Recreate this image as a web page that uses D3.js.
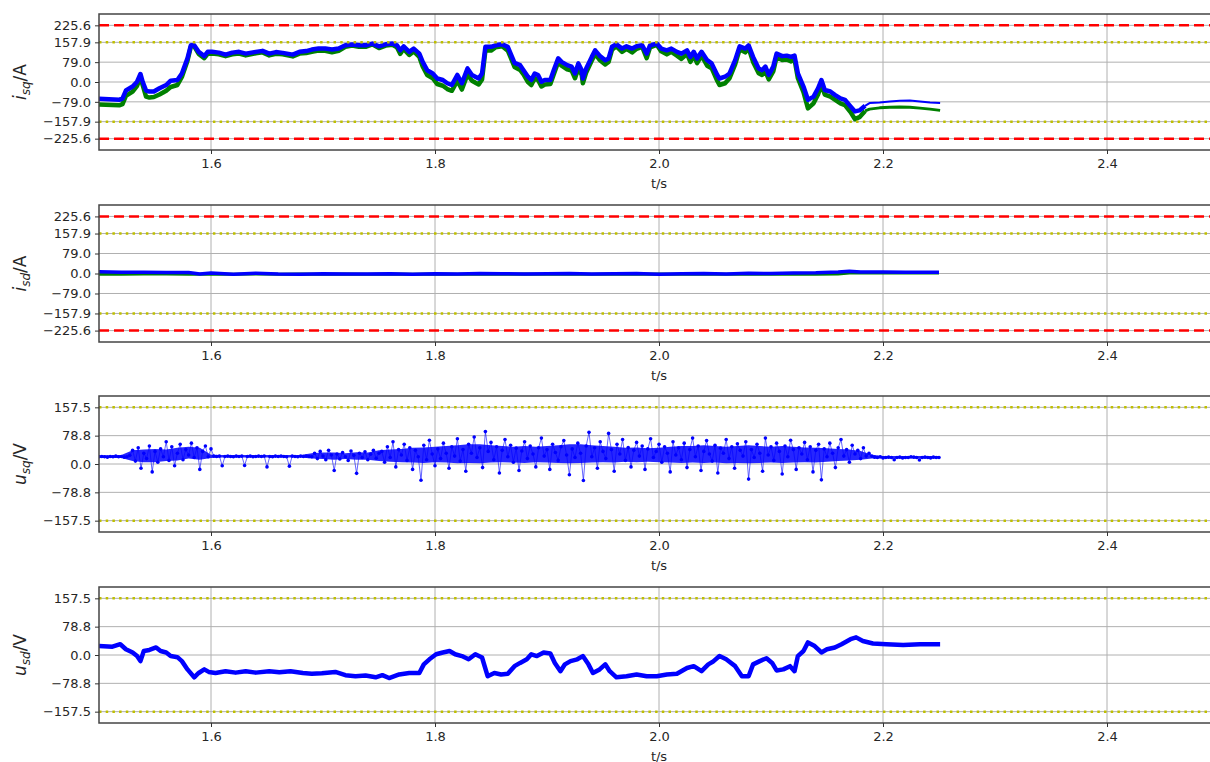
<!DOCTYPE html>
<html lang="en">
<head>
<meta charset="utf-8">
<script src="https://d3js.org/d3.v7.min.js"></script>
<style>
  body { margin: 0; background: #fff; }
  text { font-family: "DejaVu Sans", sans-serif; }
</style>
</head>
<body>
<script>

// ---- data ----

var xTicks = [1.6, 1.8, 2.0, 2.2, 2.4];
var iTicks = [-225.6, -157.9, -79.0, 0.0, 79.0, 157.9, 225.6];
var uTicks = [-157.5, -78.8, 0.0, 78.8, 157.5];
var iMax = 225.6;      // red dashed limit
var iRated = 157.9;    // yellow dotted limit
var uMax = 157.5;      // yellow dotted limit (voltage)

// i_sq
var tIq = [1.500,1.518,1.521,1.524,1.530,1.534,1.537,1.539,1.542,1.545,
  1.549,1.554,1.560,1.564,1.570,1.574,1.579,1.582,1.585,1.589,
  1.594,1.597,1.601,1.607,1.613,1.619,1.625,1.631,1.640,1.646,
  1.652,1.658,1.664,1.673,1.679,1.685,1.690,1.696,1.702,1.708,
  1.714,1.720,1.726,1.732,1.738,1.744,1.750,1.756,1.762,1.766,
  1.769,1.772,1.777,1.781,1.786,1.789,1.793,1.798,1.802,1.807,
  1.811,1.815,1.820,1.824,1.829,1.833,1.839,1.842,1.845,1.850,
  1.854,1.860,1.865,1.871,1.876,
  1.879,1.883,1.886,1.889,1.892,1.895,1.898,1.903,1.906,1.910,
  1.913,1.918,1.922,1.925,1.928,1.931,1.932,1.935,1.940,1.943,
  1.947,1.952,1.955,1.958,1.962,1.967,1.971,1.976,1.980,1.985,
  1.989,1.992,1.998,2.002,2.007,2.011,2.016,2.020,2.025,2.028,
  2.031,2.034,2.038,2.043,2.047,2.052,2.054,2.059,2.063,2.068,
  2.072,2.077,2.080,2.084,2.089,2.092,2.095,2.098,2.102,2.105,
  2.110,2.114,2.118,2.121,2.124,2.129,2.133,2.138,2.142,2.145,
  2.148,2.153,2.157,2.162,2.166,2.171,2.175,2.179,2.184,2.188,
  2.197,2.206,2.215,2.224,2.233,2.242,2.251];

var iqBlue = [-67,-71,-65,-34,-18,1,32,1,-34,-38,
  -38,-25,-12,5,8,34,94,146,146,120,
  103,120,120,117,109,117,120,113,120,124,
  113,119,116,109,120,123,129,133,133,129,
  133,146,149,146,146,153,142,150,153,146,
  126,142,120,133,113,80,47,34,14,8,
  -5,-12,28,-5,54,28,14,34,140,140,
  146,150,140,76,67,
  47,21,8,34,28,1,8,8,47,94,
  80,67,61,34,74,47,14,54,100,126,
  105,87,94,140,150,133,142,133,142,146,
  113,146,153,133,126,133,120,113,126,100,
  120,94,120,87,74,28,14,21,34,87,
  142,133,146,100,54,47,61,28,61,113,
  103,105,100,105,34,-18,-71,-58,-25,8,
  -32,-38,-51,-65,-71,-97,-117,-113,-95,-84,
  -82,-78,-75,-74,-78,-82,-84];

var iqGreen = [-90,-93,-88,-55,-38,-15,18,-12,-58,-62,
  -60,-50,-35,-20,-12,20,85,140,142,112,
  95,112,113,110,103,110,113,106,114,118,
  106,112,110,102,113,115,120,125,124,118,
  124,140,145,140,140,150,135,145,148,138,
  112,132,108,122,100,62,28,15,-8,-15,
  -28,-35,5,-30,30,5,-10,10,125,125,
  138,142,125,60,48,
  30,0,-12,15,8,-18,-10,-8,30,80,
  65,50,45,15,55,28,-5,38,85,112,
  88,70,80,128,142,120,132,118,132,140,
  95,138,148,122,110,120,105,92,112,80,
  105,75,105,65,55,5,-12,-5,15,70,
  130,118,135,80,35,28,42,10,42,100,
  88,90,82,90,15,-40,-105,-85,-50,-10,
  -50,-58,-70,-85,-92,-120,-148,-140,-115,-108,
  -103,-101,-100,-101,-104,-108,-113];

// i_sd
var tIsd = [1.50,1.52,1.54,1.56,1.58,1.59,1.60,1.62,1.64,1.66,
  1.68,1.70,1.72,1.74,1.76,1.78,1.80,1.82,1.84,1.86,
  1.88,1.90,1.92,1.94,1.96,1.98,2.00,2.02,2.04,2.06,
  2.08,2.10,2.12,2.14,2.16,2.17,2.18,2.20,2.22,2.25];
var isdBlue = [7,5,5,4,4,-2,2,-3,1,-2,
  -3,-1,-2,-2,-1,-3,-1,-2,0,-1,
  -2,-1,0,-2,-1,0,-3,-1,0,-2,
  1,0,2,3,6,9,6,6,5,5];
var isdGreen = [-3,-3,-2,-2,-3,-3,-2,-3,-2,-3,
  -2,-3,-2,-3,-2,-3,-2,-3,-2,-3,
  -2,-3,-2,-3,-2,-3,-2,-3,-2,-3,
  -2,-3,-2,-3,-2,2,2,2,2,2];

// u_sq, sampled every 2.5 ms from 1.5 s
var usqStart = 1.5;
var usqStep = 0.0025;
var usq = [20,21,20,19,21,20,22,20,21,19,20,24,
  38,8,45,-12,30,15,50,-22,35,5,42,20,62,10,48,-5,30,55,12,40,25,58,18,45,-15,35,50,20,42,
  22,21,22,-5,21,22,21,20,22,21,22,-4,21,22,20,21,22,21,22,-8,21,20,22,21,22,21,20,-6,22,21,20,22,21,22,21,20,
  30,15,35,22,12,38,25,-18,28,14,32,20,10,36,24,-26,30,18,34,12,27,38,16,30,
  35,5,48,18,62,-8,40,25,55,10,
  45,-15,38,20,-45,52,12,66,28,-5,
  42,15,58,30,-12,48,22,70,8,40,
  -20,55,30,75,18,45,-10,90,35,60,
  12,48,-25,38,68,20,52,5,44,-18,
  36,62,15,50,28,-8,45,72,22,40,
  -15,55,32,10,48,65,25,-30,42,18,
  58,30,-46,50,88,20,45,-12,62,35,
  15,85,40,-20,55,28,68,10,46,-8,
  38,60,22,50,-15,42,70,18,35,55,
  5,48,30,-22,62,25,45,12,58,-10,
  40,72,20,50,-18,35,65,28,8,52,
  -25,44,30,68,15,48,-12,56,38,22,
  62,-42,40,18,55,30,-20,72,25,48,
  10,58,35,-28,50,20,66,40,-15,45,
  28,60,12,48,-22,38,55,-44,42,20,
  58,30,-10,45,68,22,40,5,52,28,
  38,15,45,22,30,
  22,19,18,20,17,18,19,18,12,18,19,17,18,18,20,19,18,11,18,19,18,17,19,18,18];

// u_sq dense core of the point cloud, every 10 ms from 1.5 s
var bandStep = 0.01;
var usqLo = [17,17,17,
  8,5,5,8,10,15,12,
  17,18,18,18,18,18,18,18,18,
  15,14,12,14,12,12,8,
  6,5,4,3,5,4,2,3,2,4,
  5,4,3,5,4,3,2,3,4,5,
  4,6,5,6,5,4,3,4,3,4,
  2,3,2,3,4,3,4,5,4,6,
  8,10,12,15,
  15,15,15,15,15,15];
var usqHi = [24,24,25,
  38,40,42,40,45,48,45,
  26,25,25,25,25,25,25,25,25,
  30,32,32,30,33,32,38,
  40,42,45,46,48,50,52,55,55,52,
  50,48,50,48,50,52,55,55,52,50,
  48,45,46,44,45,48,50,50,52,50,
  48,50,52,50,48,50,48,46,45,44,
  42,40,36,26,
  22,22,22,22,22,22];

// u_sd
var tUsd = [1.500,1.512,1.519,1.524,1.530,1.534,1.537,1.540,1.545,1.551,
  1.555,1.560,1.564,1.570,1.574,1.579,1.585,1.589,1.594,1.598,
  1.604,1.613,1.622,1.631,1.640,1.652,1.661,1.671,1.682,1.690,
  1.699,1.711,1.720,1.729,1.738,1.747,1.753,1.759,1.768,1.777,
  1.786,1.790,1.795,1.801,1.807,1.813,1.818,1.824,1.830,1.836,
  1.842,1.847,1.853,1.859,1.865,1.871,
  1.876,1.882,1.886,1.891,1.897,1.903,1.907,1.912,1.916,1.921,
  1.927,1.932,1.937,1.941,1.947,1.952,1.956,1.962,1.971,1.980,
  1.989,1.998,2.007,2.016,2.025,2.031,2.038,2.044,2.048,2.054,
  2.060,2.068,2.074,2.080,2.084,2.090,2.096,2.101,2.105,2.111,
  2.117,2.121,2.124,2.129,2.133,2.139,2.145,2.150,2.157,2.163,
  2.171,2.176,2.182,2.191,2.203,2.218,2.233,2.251];
var usd = [25,23,30,16,7,-3,-17,11,14,21,
  11,7,-3,-6,-17,-40,-62,-50,-40,-47,
  -50,-45,-49,-45,-49,-45,-48,-45,-50,-52,
  -51,-47,-56,-59,-57,-62,-56,-64,-54,-50,
  -50,-26,-12,2,7,11,2,-3,-12,2,
  -7,-59,-50,-54,-52,-31,
  -22,-12,2,-3,7,4,-22,-45,-26,-17,
  -12,-3,-26,-50,-40,-26,-45,-62,-59,-54,
  -59,-59,-54,-52,-36,-31,-45,-26,-19,-3,
  -12,-31,-59,-59,-26,-17,-9,-22,-43,-40,
  -31,-45,-3,11,35,25,7,16,21,30,
  44,49,39,32,30,28,30,30];

// ---- layout ----

var w = 1210, h = 762;
var left = 99, right = 1219;

var svg = d3.select("body").append("svg")
    .attr("width", w)
    .attr("height", h);

var xScale = d3.scaleLinear().domain([1.5, 2.5]).range([left, right]);
var fmt = d3.format(".1f");
var minus = s => s.replace("-", "\u2212");

var panels = [
  {top: 14,  bottom: 150, lim: iMax * 1.2, ticks: iTicks, red: iMax, yellow: iRated, sym: "i", sub: "sq", unit: "A"},
  {top: 205, bottom: 342, lim: iMax * 1.2, ticks: iTicks, red: iMax, yellow: iRated, sym: "i", sub: "sd", unit: "A"},
  {top: 396, bottom: 532, lim: uMax * 1.2, ticks: uTicks, red: null, yellow: uMax, sym: "u", sub: "sq", unit: "V"},
  {top: 587, bottom: 723, lim: uMax * 1.2, ticks: uTicks, red: null, yellow: uMax, sym: "u", sub: "sd", unit: "V"}
];

panels.forEach(function(p, k) {
  p.y = d3.scaleLinear().domain([-p.lim, p.lim]).range([p.bottom, p.top]);

  svg.append("clipPath").attr("id", "clip" + k)
    .append("rect")
      .attr("x", left).attr("y", p.top)
      .attr("width", right - left).attr("height", p.bottom - p.top);

  var g = svg.append("g");

  // grid
  g.selectAll(".hgrid").data(p.ticks).enter().append("line")
      .attr("x1", left).attr("x2", right)
      .attr("y1", d => p.y(d)).attr("y2", d => p.y(d))
      .attr("stroke", "#b0b0b0").attr("stroke-width", 1);
  g.selectAll(".vgrid").data(xTicks).enter().append("line")
      .attr("x1", d => xScale(d)).attr("x2", d => xScale(d))
      .attr("y1", p.top).attr("y2", p.bottom)
      .attr("stroke", "#b0b0b0").attr("stroke-width", 1);

  p.plot = svg.append("g").attr("clip-path", "url(#clip" + k + ")");
});

var line = function(yScale) {
  return d3.line().x(d => xScale(d[0])).y(d => yScale(d[1]));
};

// i_sq
var p1 = panels[0];
var iqB = tIq.map((t, i) => [t, iqBlue[i]]);
var iqG = tIq.map((t, i) => [t, iqGreen[i]]);
p1.plot.append("path").datum(iqG.filter(d => d[0] <= 2.185))
    .attr("d", line(p1.y)).attr("fill", "none").attr("stroke", "#008000")
    .attr("stroke-width", 4.5).attr("stroke-linejoin", "round");
p1.plot.append("path").datum(iqG.filter(d => d[0] >= 2.184))
    .attr("d", line(p1.y)).attr("fill", "none").attr("stroke", "#008000")
    .attr("stroke-width", 3).attr("stroke-linejoin", "round");
p1.plot.append("path").datum(iqB.filter(d => d[0] <= 2.185))
    .attr("d", line(p1.y)).attr("fill", "none").attr("stroke", "#0000ff")
    .attr("stroke-width", 4.5).attr("stroke-linejoin", "round");
p1.plot.append("path").datum(iqB.filter(d => d[0] >= 2.184))
    .attr("d", line(p1.y)).attr("fill", "none").attr("stroke", "#0000ff")
    .attr("stroke-width", 2).attr("stroke-linejoin", "round");

// i_sd
var p2 = panels[1];
p2.plot.append("path").datum(tIsd.map((t, i) => [t, isdGreen[i]]))
    .attr("d", line(p2.y)).attr("fill", "none").attr("stroke", "#008000")
    .attr("stroke-width", 3);
p2.plot.append("path").datum(tIsd.map((t, i) => [t, isdBlue[i]]))
    .attr("d", line(p2.y)).attr("fill", "none").attr("stroke", "#0000ff")
    .attr("stroke-width", 3.5).attr("stroke-linejoin", "round");

// u_sq (scatter)
var p3 = panels[2];
var band = usqLo.map((lo, i) => ({t: usqStart + i * bandStep, lo: lo, hi: usqHi[i]}));
p3.plot.append("path").datum(band)
    .attr("d", d3.area().x(d => xScale(d.t)).y0(d => p3.y(d.lo)).y1(d => p3.y(d.hi)))
    .attr("fill", "#0000ff").attr("fill-opacity", 0.85);
var usqPts = usq.map((v, i) => [usqStart + i * usqStep, v]);
p3.plot.append("path").datum(usqPts)
    .attr("d", line(p3.y)).attr("fill", "none").attr("stroke", "#0000ff")
    .attr("stroke-width", 1).attr("stroke-opacity", 0.6);
p3.plot.selectAll("circle").data(usqPts).enter().append("circle")
    .attr("cx", d => xScale(d[0])).attr("cy", d => p3.y(d[1]))
    .attr("r", 1.8).attr("fill", "#0000ff");

// u_sd
var p4 = panels[3];
p4.plot.append("path").datum(tUsd.map((t, i) => [t, usd[i]]))
    .attr("d", line(p4.y)).attr("fill", "none").attr("stroke", "#0000ff")
    .attr("stroke-width", 4.5).attr("stroke-linejoin", "round");

// limit lines, spines, ticks, labels
panels.forEach(function(p) {
  var lim = p.plot;
  [p.yellow, -p.yellow].forEach(function(v) {
    lim.append("line")
        .attr("x1", left).attr("x2", right)
        .attr("y1", p.y(v)).attr("y2", p.y(v))
        .attr("stroke", "#bfbf00").attr("stroke-width", 2.5)
        .attr("stroke-dasharray", "2.5 4.2");
  });
  if (p.red != null) {
    [p.red, -p.red].forEach(function(v) {
      lim.append("line")
          .attr("x1", left).attr("x2", right)
          .attr("y1", p.y(v)).attr("y2", p.y(v))
          .attr("stroke", "#ff0000").attr("stroke-width", 2.5)
          .attr("stroke-dasharray", "10 5");
    });
  }

  svg.append("rect")
      .attr("x", left).attr("y", p.top)
      .attr("width", right - left).attr("height", p.bottom - p.top)
      .attr("fill", "none").attr("stroke", "#444").attr("stroke-width", 1.5);

  var yAxis = d3.axisLeft(p.y).tickValues(p.ticks).tickSize(4).tickPadding(4)
      .tickFormat(d => minus(fmt(d)));
  var xAxis = d3.axisBottom(xScale).tickValues(xTicks).tickSize(4).tickPadding(5)
      .tickFormat(d => fmt(d));

  var ya = svg.append("g").attr("transform", `translate(${left},0)`).call(yAxis);
  var xa = svg.append("g").attr("transform", `translate(0,${p.bottom})`).call(xAxis);
  [ya, xa].forEach(function(a) {
    a.select(".domain").remove();
    a.selectAll("line").attr("stroke", "#333");
    a.selectAll("text").attr("fill", "#262626").attr("font-size", 13)
        .attr("font-family", "DejaVu Sans");
  });

  svg.append("text")
      .attr("x", (left + right) / 2).attr("y", p.bottom + 38)
      .attr("text-anchor", "middle").attr("font-size", 13).attr("fill", "#262626")
      .text("t/s");

  var lab = svg.append("text")
      .attr("transform", `translate(26,${(p.top + p.bottom) / 2}) rotate(-90)`)
      .attr("text-anchor", "middle").attr("font-size", 17).attr("fill", "#262626");
  lab.append("tspan").attr("font-style", "italic").text(p.sym);
  lab.append("tspan").attr("font-style", "italic").attr("font-size", 12)
      .attr("dy", 4).text(p.sub);
  lab.append("tspan").attr("dy", -4).text("/" + p.unit);
});

</script>
</body>
</html>
